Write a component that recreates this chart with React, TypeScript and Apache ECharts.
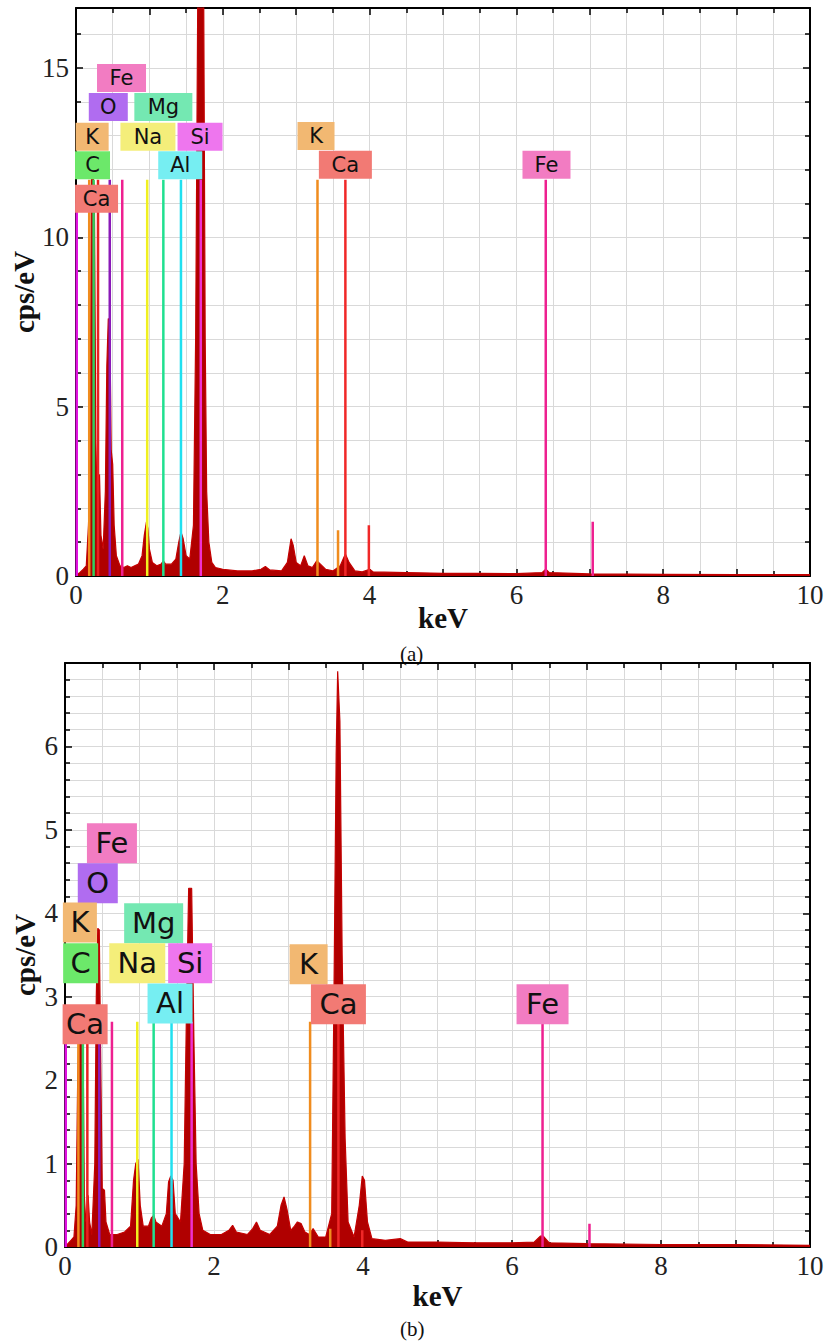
import React, { useEffect, useRef } from "react";
import * as echarts from "echarts";

// ---------- DATA ----------
// Spectrum (a): [keV, cps/eV]
const SPECTRUM_A: [number, number][] = [
  [0.0, 0], [0.02, 0.05], [0.05, 0.1], [0.1, 0.2], [0.14, 0.3], [0.17, 1.5], [0.19, 3.0],
  [0.21, 11.7], [0.23, 11.8], [0.25, 11.5], [0.27, 4.0], [0.29, 2.0], [0.32, 3.0], [0.34, 1.2],
  [0.37, 0.8], [0.4, 2.5], [0.42, 6.2], [0.44, 7.6], [0.46, 7.5], [0.48, 3.7], [0.5, 3.3],
  [0.52, 1.5], [0.55, 0.6], [0.6, 0.3], [0.65, 0.25], [0.7, 0.3], [0.75, 0.25], [0.8, 0.3],
  [0.85, 0.35], [0.9, 0.6], [0.93, 1.2], [0.96, 1.6], [0.98, 1.4], [1.0, 0.8], [1.04, 0.4],
  [1.1, 0.3], [1.16, 0.35], [1.19, 0.45], [1.22, 0.35], [1.3, 0.35], [1.36, 0.5], [1.4, 1.0],
  [1.43, 1.3], [1.46, 1.1], [1.5, 0.6], [1.55, 0.5], [1.6, 1.5], [1.63, 7.0], [1.66, 17.5],
  [1.7, 18], [1.74, 17], [1.76, 7.0], [1.78, 2.5], [1.81, 1.0], [1.85, 0.4], [1.9, 0.25],
  [2.0, 0.2], [2.2, 0.15], [2.4, 0.15], [2.52, 0.2], [2.58, 0.28], [2.64, 0.18], [2.8, 0.15],
  [2.88, 0.4], [2.93, 1.1], [2.96, 0.9], [3.0, 0.4], [3.06, 0.3], [3.11, 0.6], [3.16, 0.3],
  [3.22, 0.25], [3.28, 0.45], [3.33, 0.35], [3.4, 0.2], [3.5, 0.15], [3.6, 0.3], [3.67, 0.65],
  [3.72, 0.4], [3.8, 0.15], [3.9, 0.12], [4.0, 0.2], [4.05, 0.12], [4.5, 0.1], [5.0, 0.08],
  [5.5, 0.08], [6.0, 0.07], [6.35, 0.1], [6.4, 0.2], [6.45, 0.1], [7.0, 0.06], [8.0, 0.05],
  [9.0, 0.04], [10.0, 0.04],
];

// Spectrum (b): [keV, cps/eV]
const SPECTRUM_B: [number, number][] = [
  [0.0, 0], [0.03, 0.03], [0.08, 0.08], [0.12, 0.12], [0.15, 0.5], [0.17, 2.0], [0.19, 2.8],
  [0.21, 2.8], [0.24, 2.7], [0.26, 0.6], [0.28, 0.3], [0.31, 0.62], [0.33, 0.3], [0.36, 0.15],
  [0.4, 1.0], [0.42, 3.0], [0.44, 3.82], [0.46, 3.8], [0.48, 2.2], [0.5, 0.7], [0.53, 0.68],
  [0.55, 0.3], [0.6, 0.15], [0.7, 0.15], [0.8, 0.18], [0.88, 0.25], [0.92, 0.8], [0.95, 1.0],
  [0.98, 1.05], [1.01, 0.5], [1.05, 0.25], [1.12, 0.25], [1.16, 0.35], [1.19, 0.38], [1.22, 0.3],
  [1.3, 0.25], [1.36, 0.4], [1.39, 0.78], [1.42, 0.85], [1.45, 0.8], [1.48, 0.4], [1.55, 0.3],
  [1.6, 1.0], [1.63, 2.8], [1.66, 4.3], [1.7, 4.3], [1.73, 2.5], [1.76, 1.0], [1.8, 0.4],
  [1.85, 0.2], [1.95, 0.15], [2.1, 0.15], [2.2, 0.2], [2.25, 0.26], [2.3, 0.18], [2.45, 0.15],
  [2.52, 0.22], [2.57, 0.3], [2.62, 0.2], [2.75, 0.15], [2.85, 0.25], [2.9, 0.5], [2.94, 0.6],
  [2.98, 0.45], [3.03, 0.2], [3.08, 0.25], [3.12, 0.3], [3.17, 0.28], [3.22, 0.18], [3.28, 0.15],
  [3.33, 0.22], [3.4, 0.12], [3.5, 0.12], [3.58, 0.4], [3.61, 3.0], [3.64, 5.9], [3.66, 6.9],
  [3.69, 6.3], [3.72, 3.5], [3.76, 1.3], [3.8, 0.3], [3.88, 0.12], [3.95, 0.5], [3.99, 0.85],
  [4.02, 0.8], [4.06, 0.3], [4.12, 0.1], [4.3, 0.08], [4.5, 0.1], [4.6, 0.06], [5.0, 0.06],
  [5.5, 0.05], [6.0, 0.05], [6.3, 0.06], [6.38, 0.13], [6.42, 0.13], [6.5, 0.05], [7.0, 0.04],
  [8.0, 0.03], [9.0, 0.03], [10.0, 0.02],
];

// Element marker lines: [colour key, keV, height]
const MARKERS_A: [string, number, number][] = [
  ["Z", 0.01, 11.0], ["K", 0.18, 11.7], ["C", 0.24, 11.7], ["CaL", 0.3, 11.7], ["O", 0.46, 11.7],
  ["Fe", 0.63, 11.7], ["Na", 0.97, 11.7], ["Mg", 1.19, 11.7], ["Al", 1.43, 11.7], ["Si", 1.7, 11.7],
  ["K", 3.29, 11.7], ["K", 3.57, 1.35], ["Ca", 3.67, 11.7], ["Ca", 3.99, 1.5],
  ["Fe", 6.4, 11.7], ["Fe", 7.04, 1.6],
];
const MARKERS_B: [string, number, number][] = [
  ["Z", 0.01, 2.7], ["K", 0.18, 2.7], ["C", 0.24, 2.7], ["CaL", 0.3, 2.7], ["O", 0.46, 2.7],
  ["Fe", 0.63, 2.7], ["Na", 0.97, 2.7], ["Mg", 1.19, 2.7], ["Al", 1.43, 2.7], ["Si", 1.7, 2.7],
  ["K", 3.29, 2.7], ["K", 3.56, 0.22], ["Ca", 3.67, 2.7], ["Ca", 3.99, 0.2],
  ["Fe", 6.41, 2.7], ["Fe", 7.04, 0.28],
];

// Element label boxes: [element, keV, cps/eV] (box centre)
const LABELS_A: [string, number, number][] = [
  ["Fe", 0.62, 14.7], ["O", 0.44, 13.85], ["Mg", 1.19, 13.85], ["K", 0.22, 12.97],
  ["Na", 0.98, 12.97], ["Si", 1.69, 12.97], ["C", 0.225, 12.13], ["Al", 1.42, 12.13],
  ["Ca", 0.28, 11.14], ["K", 3.27, 12.99], ["Ca", 3.67, 12.14], ["Fe", 6.41, 12.14],
];
const LABELS_B: [string, number, number][] = [
  ["Fe", 0.63, 4.84], ["O", 0.44, 4.36], ["K", 0.2, 3.89], ["Mg", 1.19, 3.88],
  ["C", 0.21, 3.4], ["Na", 0.97, 3.4], ["Si", 1.68, 3.4], ["Al", 1.41, 2.92],
  ["Ca", 0.27, 2.67], ["K", 3.27, 3.39], ["Ca", 3.67, 2.91], ["Fe", 6.41, 2.91],
];

const X_RANGE = [0, 10];
const Y_RANGE_A = [0, 16.77];
const Y_RANGE_B = [0, 7];
const Y_LABELS_A = [0, 5, 10, 15];
const Y_LABELS_B = [0, 1, 2, 3, 4, 5, 6];
const X_LABELS = [0, 2, 4, 6, 8, 10];

// ---------- STYLE ----------
const LABEL_W_A = [49, 39, 58, 33, 55, 45, 35, 44, 43, 37, 53, 48];
const LABEL_W_B = [50, 40, 34, 59, 35, 56, 44, 45, 45, 38, 55, 52];

const BOX_COLORS: Record<string, string> = {
  Fe: "#f27cc2", O: "#b06cf0", Mg: "#74e8b2", K: "#f2b872", Na: "#f4ee7a",
  Si: "#ee76ee", C: "#6ce86a", Al: "#76eef2", Ca: "#f27a74",
};
const LINE_COLORS: Record<string, string> = {
  Z: "#e010e0", K: "#f08c1e", C: "#30d060", CaL: "#e82020", O: "#8a1ab8", Fe: "#ee2090",
  Na: "#f0f020", Mg: "#20e090", Al: "#20e0f0", Si: "#f030d0", Ca: "#f02828",
};

const SERIF = "'Liberation Serif', 'Times New Roman', serif";
const SANS = "'DejaVu Sans', Verdana, sans-serif";
const GRID_COLOR = "#d9d9d9";

type PanelCfg = {
  yRange: number[];
  yInterval: number;
  yMinor: number;
  yLabels: number[];
  spectrum: [number, number][];
  markers: [string, number, number][];
  labels: [string, number, number][];
  labelW: number[];
  labelH: number;
  labelFont: number;
  xNameGap: number;
  yNameGap: number;
};

const hasLabel = (list: number[], v: number) => list.some((t) => Math.abs(t - v) < 1e-6);

function buildPanel(i: number, cfg: PanelCfg) {
  const xi = i * 2;
  const yi = i * 2;
  const tickStyle = { color: "#000", width: 1.5 };
  const xAxes = [
    {
      type: "value", gridIndex: i, position: "bottom", min: X_RANGE[0], max: X_RANGE[1], interval: 1,
      axisLine: { onZero: false, lineStyle: { color: "#000", width: 2 } },
      axisTick: { inside: true, length: 7, lineStyle: tickStyle },
      minorTick: { show: true, splitNumber: 2, length: 5, lineStyle: tickStyle },
      splitLine: { show: true, lineStyle: { color: GRID_COLOR, width: 1 } },
      minorSplitLine: { show: true, lineStyle: { color: GRID_COLOR, width: 1 } },
      axisLabel: {
        formatter: (v: number) => (hasLabel(X_LABELS, v) ? String(v) : ""),
        fontFamily: SERIF, fontSize: 27, color: "#222", margin: 5,
      },
      name: "keV", nameLocation: "middle", nameGap: cfg.xNameGap, nameMoveOverlap: false,
      nameTextStyle: { fontFamily: SERIF, fontSize: 29, fontWeight: "bold", color: "#111" },
    },
    {
      type: "value", gridIndex: i, position: "top", min: X_RANGE[0], max: X_RANGE[1], interval: 1,
      axisLine: { onZero: false, lineStyle: { color: "#000", width: 2 } },
      axisTick: { inside: true, length: 7, lineStyle: tickStyle },
      minorTick: { show: true, splitNumber: 2, length: 5, lineStyle: tickStyle },
      splitLine: { show: false }, axisLabel: { show: false },
    },
  ];
  const yAxes = [
    {
      type: "value", gridIndex: i, position: "left", min: cfg.yRange[0], max: cfg.yRange[1],
      interval: cfg.yInterval,
      axisLine: { onZero: false, lineStyle: { color: "#000", width: 2 } },
      axisTick: { inside: true, length: 7, lineStyle: tickStyle },
      minorTick: { show: true, splitNumber: cfg.yMinor, length: 5, lineStyle: tickStyle },
      splitLine: { show: true, lineStyle: { color: GRID_COLOR, width: 1 } },
      minorSplitLine: { show: true, lineStyle: { color: GRID_COLOR, width: 1 } },
      axisLabel: {
        formatter: (v: number) => (hasLabel(cfg.yLabels, v) ? String(v) : ""),
        fontFamily: SERIF, fontSize: 27, color: "#222", margin: 7,
      },
      name: "cps/eV", nameLocation: "middle", nameGap: cfg.yNameGap, nameRotate: 90,
      nameMoveOverlap: false,
      nameTextStyle: { fontFamily: SERIF, fontSize: 29, fontWeight: "bold", color: "#111" },
    },
    {
      type: "value", gridIndex: i, position: "right", min: cfg.yRange[0], max: cfg.yRange[1],
      interval: cfg.yInterval,
      axisLine: { onZero: false, lineStyle: { color: "#000", width: 2 } },
      axisTick: { inside: true, length: 7, lineStyle: tickStyle },
      minorTick: { show: true, splitNumber: cfg.yMinor, length: 5, lineStyle: tickStyle },
      splitLine: { show: false }, axisLabel: { show: false },
    },
  ];
  const series: any[] = [
    {
      type: "line", xAxisIndex: xi, yAxisIndex: yi, data: cfg.spectrum, symbol: "none",
      clip: true, z: 2, silent: true,
      lineStyle: { color: "#c40000", width: 1.2 },
      areaStyle: { color: "#b00000", opacity: 1 },
    },
  ];
  cfg.markers.forEach(([key, e, h]) => {
    series.push({
      type: "line", xAxisIndex: xi, yAxisIndex: yi, symbol: "none", silent: true, z: 4,
      data: [[e, 0], [e, h]],
      lineStyle: { color: LINE_COLORS[key], width: 2.5 },
    });
  });
  series.push({
    type: "scatter", xAxisIndex: xi, yAxisIndex: yi, symbolSize: 1, silent: true, z: 10,
    clip: false,
    itemStyle: { color: "rgba(0,0,0,0)" },
    data: cfg.labels.map(([name, e, v], k) => ({
      value: [e, v],
      label: {
        show: true, position: "inside", formatter: name,
        backgroundColor: BOX_COLORS[name], width: cfg.labelW[k], height: cfg.labelH,
        lineHeight: cfg.labelH, align: "center", verticalAlign: "middle",
        fontFamily: SANS, fontSize: cfg.labelFont, color: "#111", opacity: 1,
      },
    })),
  });
  return { xAxes, yAxes, series };
}

export default function App() {
  const ref = useRef<HTMLDivElement>(null);
  useEffect(() => {
    document.body.style.margin = "0";
    if (!ref.current) return;
    const chart = echarts.init(ref.current, undefined, { renderer: "svg" });
    const a = buildPanel(0, {
      yRange: Y_RANGE_A, yInterval: 5, yMinor: 5, yLabels: Y_LABELS_A,
      spectrum: SPECTRUM_A, markers: MARKERS_A, labels: LABELS_A, labelW: LABEL_W_A,
      labelH: 28, labelFont: 21, xNameGap: 27, yNameGap: 38,
    });
    const b = buildPanel(1, {
      yRange: Y_RANGE_B, yInterval: 1, yMinor: 5, yLabels: Y_LABELS_B,
      spectrum: SPECTRUM_B, markers: MARKERS_B, labels: LABELS_B, labelW: LABEL_W_B,
      labelH: 40, labelFont: 29, xNameGap: 34, yNameGap: 26,
    });
    chart.setOption({
      animation: false,
      backgroundColor: "#ffffff",
      grid: [
        { left: 76, right: 20, top: 8, height: 568, outerBoundsMode: "none", containLabel: false },
        { left: 65, right: 20, top: 663, height: 584, outerBoundsMode: "none", containLabel: false },
      ],
      xAxis: [...a.xAxes, ...b.xAxes],
      yAxis: [...a.yAxes, ...b.yAxes],
      series: [...a.series, ...b.series],
      graphic: [
        { type: "text", left: 400, top: 643, style: { text: "(a)", fontFamily: SERIF, fontSize: 21, fill: "#111" } },
        { type: "text", left: 400, top: 1318, style: { text: "(b)", fontFamily: SERIF, fontSize: 21, fill: "#111" } },
      ],
    });
    return () => chart.dispose();
  }, []);
  return <div ref={ref} style={{ width: 830, height: 1344 }} />;
}
